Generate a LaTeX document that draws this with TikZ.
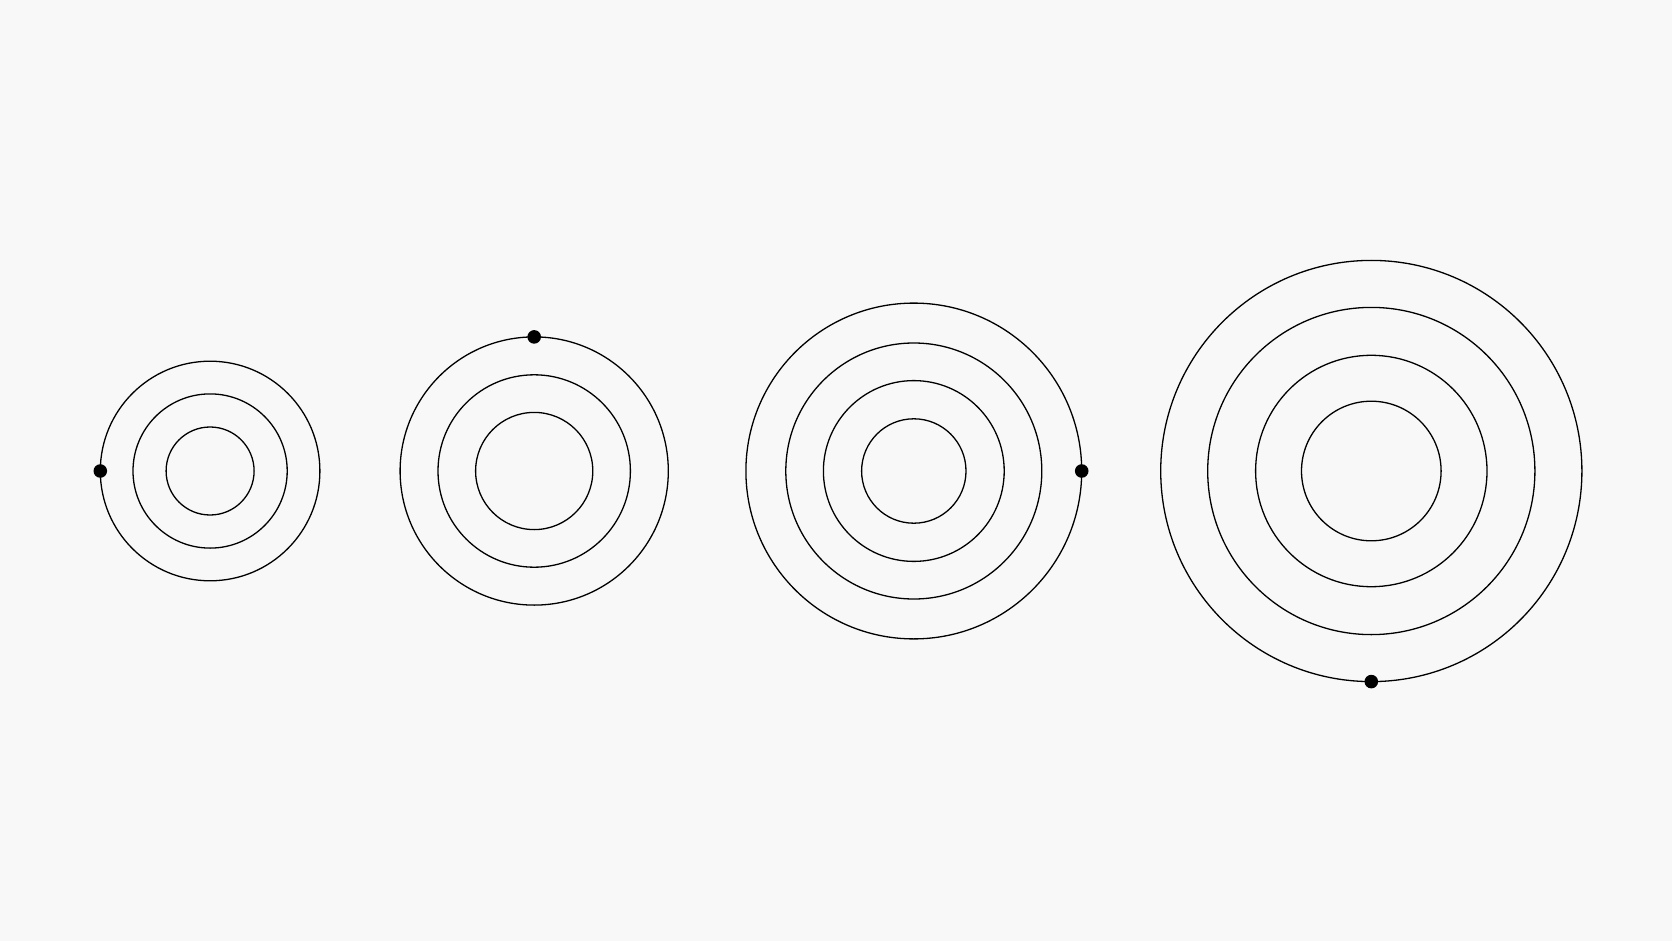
\documentclass[tikz,border=0pt]{standalone}
\definecolor{bg}{RGB}{248,248,248}
\begin{document}
\begin{tikzpicture}[x=1pt,y=-1pt,
  ring/.style={draw=black,line width=1.3pt},
  dot/.style={fill=black}]
\fill[bg] (0,0) rectangle (1672,941);
\useasboundingbox (0,0) rectangle (1672,941);
% system 1
\coordinate (c1) at (210.1,471);
\foreach \r in {109.8,77.1,44.0} \draw[ring] (c1) circle (\r);
\fill[dot] ([xshift=-109.8pt]c1) circle (6.8);
% system 2
\coordinate (c2) at (534.2,471);
\foreach \r in {134.1,96.2,58.6} \draw[ring] (c2) circle (\r);
\fill[dot] ([yshift=134.1pt]c2) circle (6.8);
% system 3
\coordinate (c3) at (913.8,471);
\foreach \r in {167.9,128.0,90.4,52.2} \draw[ring] (c3) circle (\r);
\fill[dot] ([xshift=167.9pt]c3) circle (6.8);
% system 4
\coordinate (c4) at (1371.3,471);
\foreach \r in {210.6,163.6,115.7,69.8} \draw[ring] (c4) circle (\r);
\fill[dot] ([yshift=-210.6pt]c4) circle (6.8);
\end{tikzpicture}
\end{document}
